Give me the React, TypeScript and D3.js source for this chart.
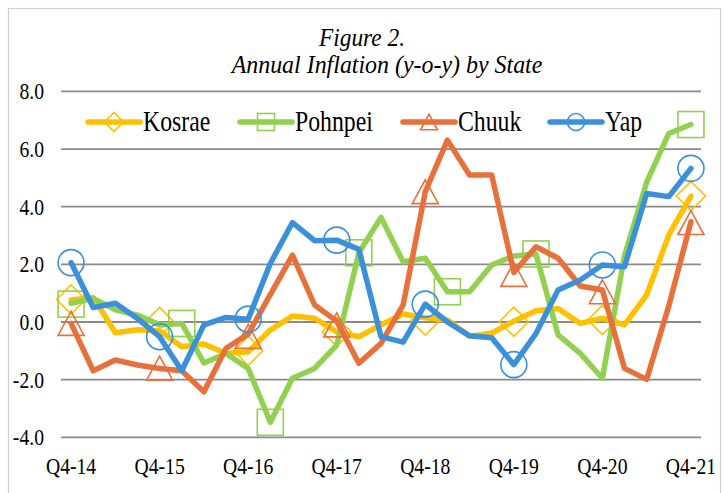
import React from "react";
import * as d3 from "d3";

const quarters = [
  "Q4-14","Q1-15","Q2-15","Q3-15","Q4-15","Q1-16","Q2-16","Q3-16","Q4-16",
  "Q1-17","Q2-17","Q3-17","Q4-17","Q1-18","Q2-18","Q3-18","Q4-18",
  "Q1-19","Q2-19","Q3-19","Q4-19","Q1-20","Q2-20","Q3-20","Q4-20",
  "Q1-21","Q2-21","Q3-21","Q4-21",
];
const tickLabels = ["Q4-14","Q4-15","Q4-16","Q4-17","Q4-18","Q4-19","Q4-20","Q4-21"];
const yTicks = [-4, -2, 0, 2, 4, 6, 8];

const kosrae = [0.76, 0.85, -0.37, -0.27, -0.3, -0.86, -0.76, -1.09, -1.03, -0.28, 0.21, 0.13, -0.34, -0.51, -0.1, 0.28, 0.15, 0.07, -0.49, -0.39, 0.03, 0.39, 0.47, -0.05, 0.13, -0.1, 0.94, 3.02, 4.37];
const pohnpei = [0.65, 0.82, 0.42, 0.24, -0.1, -0.05, -1.42, -1.09, -1.61, -3.48, -1.95, -1.61, -0.8, 2.4, 3.63, 2.09, 2.21, 1.05, 1.05, 1.98, 2.29, 2.36, -0.45, -1.09, -1.95, 2.3, 4.85, 6.54, 6.85];
const chuuk = [-0.05, -1.69, -1.32, -1.49, -1.61, -1.69, -2.42, -0.91, -0.42, 0.95, 2.32, 0.59, 0.03, -1.43, -0.74, 0.59, 4.52, 6.31, 5.1, 5.1, 1.72, 2.61, 2.21, 1.25, 1.11, -1.61, -1.99, 0.56, 3.48];
const yap = [2.06, 0.5, 0.65, 0.12, -0.51, -1.69, -0.1, 0.16, 0.1, 2.03, 3.45, 2.82, 2.84, 2.52, -0.51, -0.7, 0.62, 0.0, -0.48, -0.55, -1.48, -0.4, 1.11, 1.46, 1.98, 1.92, 4.46, 4.35, 5.33];

// marker positions (quarter labels) and marker values
const kosraeMarkerAt = ["Q4-14","Q4-15","Q4-16","Q4-17","Q4-18","Q4-19","Q4-20","Q4-21"];
const kosraeMarkerVals = [0.78, 0.0, -1.0, -0.34, 0.05, 0.01, 0.07, 4.37];
const pohnpeiMarkerAt = ["Q4-14","Q1-16","Q1-17","Q1-18","Q1-19","Q1-20","Q4-21"];
const pohnpeiMarkerVals = [0.62, -0.05, -3.48, 2.4, 1.05, 2.36, 6.85];
const chuukMarkerAt = ["Q4-14","Q4-15","Q4-16","Q4-17","Q4-18","Q4-19","Q4-20","Q4-21"];
const chuukMarkerVals = [-0.05, -1.6, -0.5, -0.1, 4.52, 1.65, 1.05, 3.45];
const yapMarkerAt = ["Q4-14","Q4-15","Q4-16","Q4-17","Q4-18","Q4-19","Q4-20","Q4-21"];
const yapMarkerVals = [2.06, -0.51, 0.1, 2.84, 0.62, -1.48, 1.98, 5.33];

const seriesNames = ["Kosrae", "Pohnpei", "Chuuk", "Yap"];
const colors = ["#FFC000", "#92D050", "#E8703A", "#3B90DA"];
const shapes = ["diamond", "square", "triangle", "circle"];

function Marker({ shape, cx, cy, s, color }: any) {
  const sw = 1.6;
  if (shape === "circle") return <circle cx={cx} cy={cy} r={s / 2} fill="none" stroke={color} strokeWidth={sw} />;
  if (shape === "square") return <rect x={cx - s / 2} y={cy - s / 2} width={s} height={s} fill="none" stroke={color} strokeWidth={sw} />;
  if (shape === "diamond") {
    const h = s * 0.56;
    return <path d={`M${cx},${cy - h}L${cx + h},${cy}L${cx},${cy + h}L${cx - h},${cy}Z`} fill="none" stroke={color} strokeWidth={sw} />;
  }
  const hw = s / 2, hh = s * 0.46;
  return <path d={`M${cx},${cy - hh}L${cx + hw},${cy + hh}L${cx - hw},${cy + hh}Z`} fill="none" stroke={color} strokeWidth={sw} />;
}

function SText({ x, y, size, anchor = "start", italic = false, sx = 0.82, children }: any) {
  return (
    <text
      transform={`translate(${x},${y}) scale(${sx},1)`}
      fontFamily="'Liberation Serif', 'Times New Roman', serif"
      fontSize={size}
      fontStyle={italic ? "italic" : "normal"}
      textAnchor={anchor}
      fill="#000"
    >
      {children}
    </text>
  );
}

export default function App() {
  const W = 724, H = 493;
  const x = d3.scaleBand<string>().domain(quarters).range([60, 702]).padding(0);
  const cx = (q: string) => (x(q) as number) + x.bandwidth() / 2;
  const y = d3.scaleLinear().domain([-4, 8]).range([437.3, 91.4]);

  const data = [kosrae, pohnpei, chuuk, yap];
  const markerAt = [kosraeMarkerAt, pohnpeiMarkerAt, chuukMarkerAt, yapMarkerAt];
  const markerVals = [kosraeMarkerVals, pohnpeiMarkerVals, chuukMarkerVals, yapMarkerVals];
  const line = d3.line<number>().x((_, i) => cx(quarters[i])).y((d) => y(d));

  const legendX = [88, 240, 403, 550];
  const legendY = 122;

  return (
    <svg width={W} height={H} style={{ position: "absolute", left: 0, top: 0, background: "#fff" }}>
      <rect x={8.5} y={8.5} width={712} height={500} fill="#fff" stroke="#d0d0d0" strokeWidth={1.2} />
      <SText x={362} y={46} size={26} sx={0.9} anchor="middle" italic>Figure 2.</SText>
      <SText x={387} y={73} size={26} sx={0.92} anchor="middle" italic>Annual Inflation (y-o-y) by State</SText>

      {yTicks.map((t) => (
        <g key={t}>
          <line x1={61} x2={701} y1={y(t)} y2={y(t)} stroke="#8a8a8a" strokeWidth={1.8} />
          <SText x={44} y={y(t) + 8} size={24} anchor="end">{t.toFixed(1)}</SText>
        </g>
      ))}
      {tickLabels.map((q) => (
        <SText key={q} x={cx(q)} y={474} size={24} anchor="middle">{q}</SText>
      ))}

      {data.map((d, si) => (
        <g key={si}>
          <path d={line(d) || ""} fill="none" stroke={colors[si]} strokeWidth={5.5} strokeLinejoin="round" strokeLinecap="round" />
          {markerAt[si].map((q, mi) => (
            <Marker key={mi} shape={shapes[si]} cx={cx(q)} cy={y(markerVals[si][mi])} s={26} color={colors[si]} />
          ))}
        </g>
      ))}

      {seriesNames.map((n, si) => (
        <g key={n}>
          <line x1={legendX[si]} x2={legendX[si] + 52} y1={legendY} y2={legendY} stroke={colors[si]} strokeWidth={5.5} strokeLinecap="round" />
          <Marker shape={shapes[si]} cx={legendX[si] + 26} cy={legendY} s={17} color={colors[si]} />
          <SText x={legendX[si] + 55} y={legendY + 9} size={29}>{n}</SText>
        </g>
      ))}
    </svg>
  );
}
